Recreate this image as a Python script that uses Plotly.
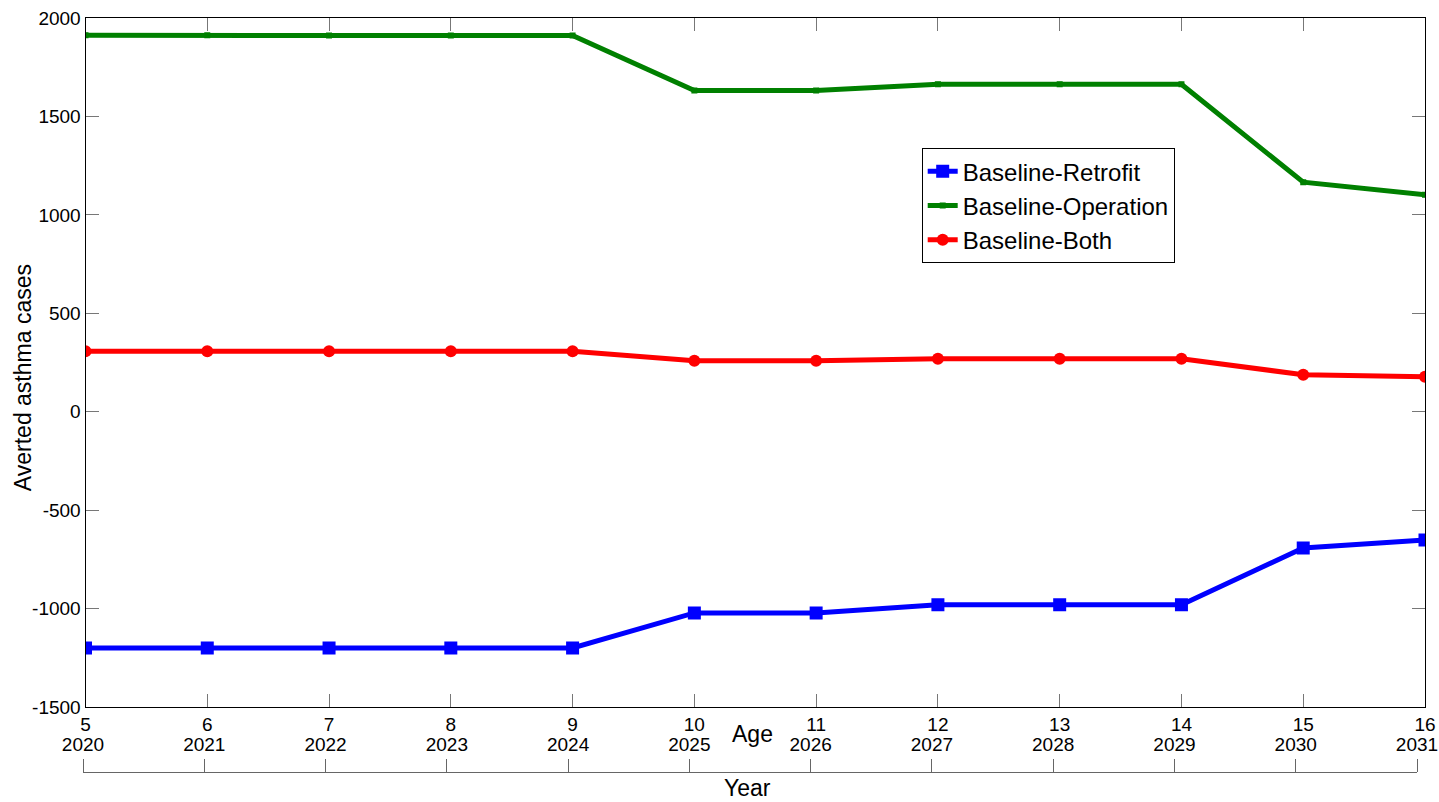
import plotly.graph_objects as go

# Child age (years) and matching calendar years
ages = [5, 6, 7, 8, 9, 10, 11, 12, 13, 14, 15, 16]
years = [2020, 2021, 2022, 2023, 2024, 2025, 2026, 2027, 2028, 2029, 2030, 2031]

# Averted asthma cases per scenario
retrofit = [-1200, -1200, -1200, -1200, -1200, -1022, -1022, -981, -981, -981, -692, -652]
operation = [1912, 1912, 1911, 1911, 1911, 1632, 1632, 1663, 1663, 1663, 1166, 1102]
both = [307, 307, 307, 307, 307, 259, 259, 269, 269, 269, 188, 178]

y_ticks = [-1500, -1000, -500, 0, 500, 1000, 1500, 2000]
y_labels = ["-1500", "-1000", "-500", "0", "500", "1000", "1500", "2000"]

FONT = "Liberation Sans, Arial, sans-serif"
W, H = 1439, 802
ML, MR, MT, MB = 83, 14, 17.7, 30
PW = W - ML - MR
PH = H - MT - MB


def px_y(yp):
    return (H - MB - yp) / PH


def px_x(xp):
    return (xp - ML) / PW


fig = go.Figure()
fig.add_trace(go.Scatter(
    x=ages, y=retrofit, name="Baseline-Retrofit", mode="lines+markers",
    line=dict(color="#0000FF", width=5),
    marker=dict(symbol="square", size=11, color="#0000FF",
                line=dict(color="#0000FF", width=2)),
))
fig.add_trace(go.Scatter(
    x=ages, y=operation, name="Baseline-Operation", mode="lines+markers",
    line=dict(color="#008000", width=5),
    marker=dict(symbol="square", size=6, color="#008000"),
))
fig.add_trace(go.Scatter(
    x=ages, y=both, name="Baseline-Both", mode="lines+markers",
    line=dict(color="#FF0000", width=5),
    marker=dict(symbol="circle", size=12, color="#FF0000"),
))
# Invisible trace that carries the calendar-year axis
fig.add_trace(go.Scatter(
    x=years, y=[0] * len(years), xaxis="x2", yaxis="y", mode="markers",
    marker=dict(opacity=0), showlegend=False, hoverinfo="skip",
))

main_bottom = px_y(707)

fig.update_layout(
    width=W, height=H, autosize=False,
    margin=dict(l=ML, r=MR, t=MT, b=MB, pad=0, autoexpand=False),
    paper_bgcolor="white", plot_bgcolor="rgba(0,0,0,0)",
    font=dict(family=FONT, size=19, color="black"),
    showlegend=True,
    legend=dict(
        x=px_x(921.7), y=px_y(148), xanchor="left", yanchor="top",
        bgcolor="white", bordercolor="black", borderwidth=1,
        font=dict(family=FONT, size=24, color="black"),
        tracegroupgap=0,
    ),
    xaxis=dict(
        domain=[px_x(85.5), 1], range=[5, 16],
        tickvals=ages, ticktext=[str(a) for a in ages],
        ticks="inside", ticklen=13, tickcolor="#777777", tickwidth=1,
        showline=True, linecolor="black", linewidth=1, mirror="ticks",
        showgrid=False, zeroline=False, automargin=False,
        tickfont=dict(family=FONT, size=19), anchor="y",
    ),
    yaxis=dict(
        domain=[main_bottom, 1], range=[-1500, 2000],
        tickvals=y_ticks, ticktext=y_labels,
        ticks="inside", ticklen=13, tickcolor="#777777", tickwidth=1,
        showline=True, linecolor="black", linewidth=1, mirror="ticks",
        showgrid=False, zeroline=False, automargin=False,
        tickfont=dict(family=FONT, size=19), anchor="x",
    ),
    xaxis2=dict(
        domain=[0, px_x(1417)], range=[2020, 2031],
        tickvals=years, ticktext=[str(y) for y in years],
        anchor="free", position=0, side="top",
        ticks="outside", ticklen=13, tickcolor="#666666", tickwidth=1,
        showline=True, linecolor="#666666", linewidth=1,
        showgrid=False, zeroline=False, automargin=False,
        tickfont=dict(family=FONT, size=19),
    ),
    annotations=[
        dict(text="Averted asthma cases", x=px_x(23), y=px_y(378),
             xref="paper", yref="paper", textangle=-90, showarrow=False,
             xanchor="center", yanchor="middle",
             font=dict(family=FONT, size=23)),
        dict(text="Age", x=px_x(752), y=px_y(734), xref="paper", yref="paper",
             showarrow=False, xanchor="center", yanchor="middle",
             font=dict(family=FONT, size=23)),
        dict(text="Year", x=px_x(747), y=px_y(788), xref="paper", yref="paper",
             showarrow=False, xanchor="center", yanchor="middle",
             font=dict(family=FONT, size=23), borderpad=0),
    ],
)

fig.write_html("out.html")
